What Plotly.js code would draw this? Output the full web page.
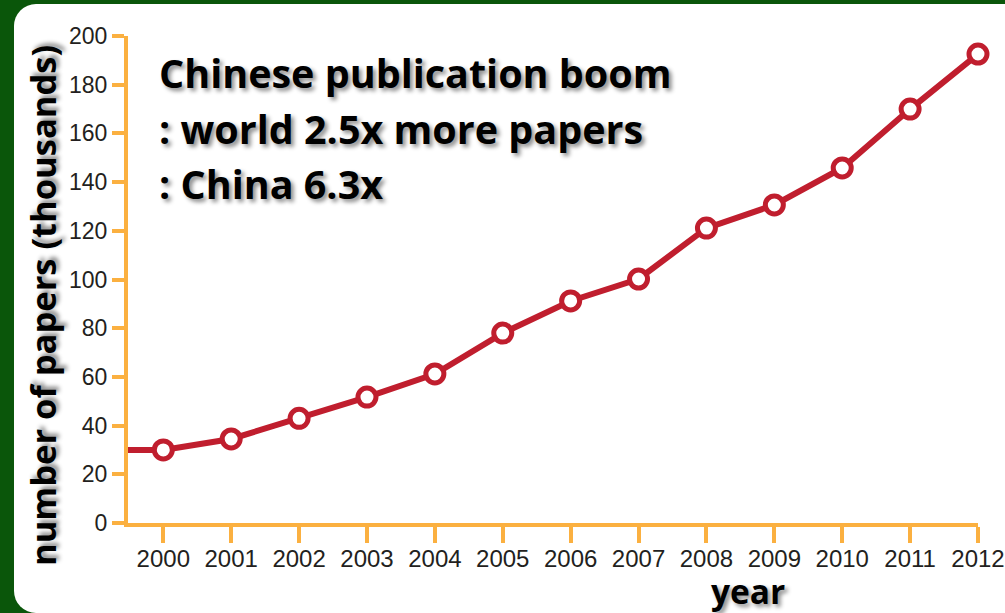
<!DOCTYPE html>
<html>
<head>
<meta charset="utf-8">
<script src="https://cdn.plot.ly/plotly-3.0.1.min.js"></script>
<style>
  html, body { margin: 0; padding: 0; width: 1005px; height: 613px; overflow: hidden; background: #0a560a; }
  #panel { position: absolute; left: 14px; top: 4px; width: 1100px; height: 609px; background: #ffffff; border-radius: 22px; }
  #chart { position: absolute; left: 0; top: 0; width: 1005px; height: 613px; }
</style>
</head>
<body>
<div id="panel"></div>
<div id="chart"></div>
<script>
// Lead-in segment (clipped by the axis) plus yearly values, thousands of papers
const leadYear = [1999];
const leadValue = [30];
const years = [2000, 2001, 2002, 2003, 2004, 2005, 2006, 2007, 2008, 2009, 2010, 2011, 2012];
const papers = [30, 34.5, 43, 51.7, 61.2, 78, 91.2, 100.2, 121.1, 130.6, 145.8, 170, 192.6];
const yTicks = [0, 20, 40, 60, 80, 100, 120, 140, 160, 180, 200];
const titleLines = ["Chinese publication boom", ": world 2.5x more papers", ": China 6.3x"];
const xTitle = "year";
const yTitle = "number of papers (thousands)";

const RED = "#c01e2e";
const ORANGE = "#fbb040";
const shadow = "3px 3px 4px rgba(0,0,0,0.45)";
const TITLE_FONT = "'Open Sans', Lato, sans-serif";

const traces = [
  {
    x: leadYear.concat(years),
    y: leadValue.concat(papers),
    mode: "lines",
    line: { color: RED, width: 6 },
    hoverinfo: "skip",
    showlegend: false
  },
  {
    x: years,
    y: papers,
    mode: "markers",
    cliponaxis: false,
    marker: { symbol: "circle", size: 18, color: "#ffffff", line: { color: RED, width: 5 } },
    showlegend: false
  }
];

// plot area: x 128..978, y 36..523 (pixels)
const L = 128, R = 978, T = 36, B = 523;
const px = v => (v - L) / (R - L);
const py = v => (B - v) / (B - T);

const annFont = { family: TITLE_FONT, size: 39.5, color: "#000000", weight: 700, shadow: shadow };
const lineCenters = [73, 129, 184];
const annotations = titleLines.map((t, i) => ({
  text: t, xref: "paper", yref: "paper", x: px(157), y: py(lineCenters[i]),
  xanchor: "left", yanchor: "middle", showarrow: false, font: annFont
}));
annotations.push({
  text: xTitle, xref: "paper", yref: "paper", x: px(748), y: py(591),
  xanchor: "center", yanchor: "middle", showarrow: false,
  font: { family: TITLE_FONT, size: 33.5, color: "#000000", weight: 700, shadow: shadow }
});
annotations.push({
  text: yTitle, xref: "paper", yref: "paper", x: px(42), y: py(306), textangle: -90,
  xanchor: "center", yanchor: "middle", showarrow: false,
  font: { family: TITLE_FONT, size: 34.5, color: "#000000", weight: 700, shadow: shadow }
});

const layout = {
  width: 1005, height: 613,
  margin: { l: L, r: 1005 - R, t: T, b: 613 - B, pad: 0 },
  paper_bgcolor: "rgba(0,0,0,0)",
  plot_bgcolor: "rgba(0,0,0,0)",
  showlegend: false,
  xaxis: {
    range: [1999.48, 2012],
    tickmode: "array", tickvals: years, ticktext: years.map(String),
    showgrid: false, zeroline: false,
    showline: true, linecolor: ORANGE, linewidth: 4,
    ticks: "outside", ticklen: 16, tickwidth: 4, tickcolor: ORANGE,
    ticklabelstandoff: -5,
    tickfont: { family: "'Liberation Sans', Arial, sans-serif", size: 24, color: "#231f20" },
    fixedrange: true
  },
  yaxis: {
    range: [0, 200],
    tickmode: "array", tickvals: yTicks, ticktext: yTicks.map(String),
    showgrid: false, zeroline: false,
    showline: true, linecolor: ORANGE, linewidth: 4,
    ticks: "outside", ticklen: 12, tickwidth: 4, tickcolor: ORANGE,
    tickfont: { family: "'Liberation Sans', Arial, sans-serif", size: 23, color: "#231f20" },
    fixedrange: true
  },
  annotations: annotations
};

Plotly.newPlot("chart", traces, layout, { displayModeBar: false, staticPlot: true });
</script>
</body>
</html>
